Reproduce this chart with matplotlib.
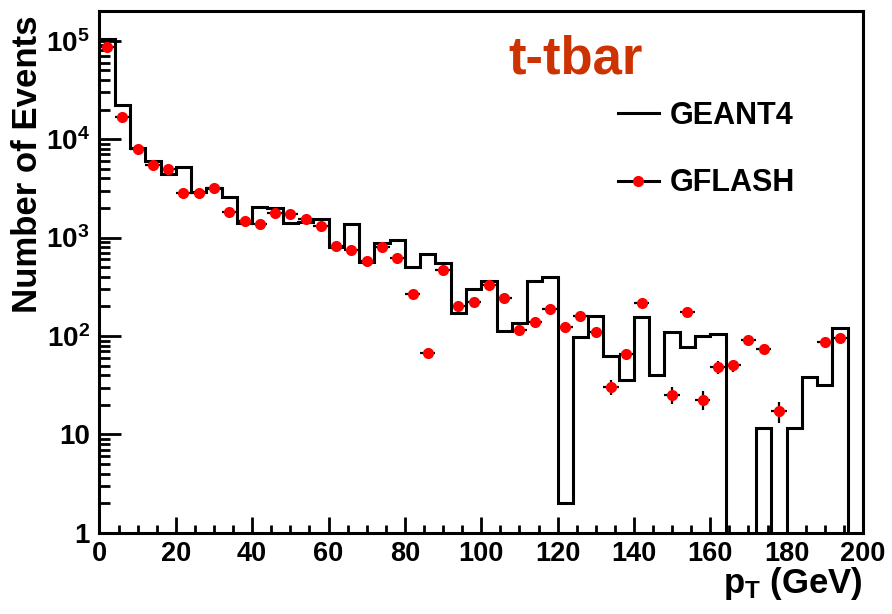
import matplotlib
matplotlib.use('Agg')
import matplotlib.pyplot as plt
import numpy as np
from matplotlib.lines import Line2D
from matplotlib.ticker import (FixedLocator, FixedFormatter, MultipleLocator,
                               LogLocator, NullFormatter)

plt.rcParams['font.family'] = ['Liberation Sans', 'DejaVu Sans']
plt.rcParams['font.weight'] = 'bold'
plt.rcParams['mathtext.fontset'] = 'custom'
plt.rcParams['mathtext.rm'] = 'Liberation Sans:bold'
plt.rcParams['mathtext.it'] = 'Liberation Sans:bold'
plt.rcParams['mathtext.bf'] = 'Liberation Sans:bold'

# p_T bins of 4 GeV from 0 to 200
bin_edges = np.arange(0, 204, 4)

# GEANT4 histogram contents (0 = empty bin)
geant4 = [105000, 22000, 8200, 6000, 4450, 5200, 2900, 3200, 2560, 1420,
          2050, 1980, 1420, 1450, 1540, 794, 1370, 568, 891, 944,
          497, 680, 558, 171, 300, 364, 113, 137, 364, 400,
          2, 98, 160, 63, 36, 157, 40, 110, 78, 100,
          106, 0, 0, 11.7, 0, 11.7, 38, 32, 120, 0]

# GFLASH points at bin centres (nan = no entry)
gflash = [87000, 16900, 7900, 5500, 4970, 2870, 2870, 3180, 1840, 1480,
          1370, 1790, 1730, 1560, 1300, 826, 752, 581, 805, 620,
          267, 68, 467, 203, 224, 329, 246, 116, 140, 188,
          124, 158, 110, 30.5, 66, 216, np.nan, 25.2, 175, 22.6,
          48.3, 50.6, 90.8, 74.6, 17.4, np.nan, np.nan, 87.3, 95.3, np.nan]

y_ticks = [1, 10, 100, 1000, 1e4, 1e5]
y_tick_labels = ['1', '10', '$10^{2}$', '$10^{3}$', '$10^{4}$', '$10^{5}$']

fig = plt.figure(figsize=(8.92, 6.14), dpi=100)
ax = fig.add_axes([0.1115, 0.132, 0.856, 0.850])

g = np.array(geant4, dtype=float)
ax.stairs(np.where(g > 0, g, 1e-2), bin_edges, color='black', lw=2.2,
          baseline=None, zorder=2)

centers = (bin_edges[:-1] + bin_edges[1:]) / 2
gf = np.array(gflash, dtype=float)
ok = ~np.isnan(gf)
ax.errorbar(centers[ok], gf[ok], xerr=2, yerr=np.sqrt(gf[ok]), fmt='o',
            color='red', mfc='red', mec='red', ms=7, ecolor='black',
            elinewidth=1.6, capsize=0, zorder=3)

ax.set_xlim(0, 200)
ax.set_yscale('log')
ax.set_ylim(1, 2e5)
ax.xaxis.set_major_locator(MultipleLocator(20))
ax.xaxis.set_minor_locator(MultipleLocator(5))
ax.yaxis.set_major_locator(FixedLocator(y_ticks))
ax.yaxis.set_major_formatter(FixedFormatter(y_tick_labels))
ax.yaxis.set_minor_locator(LogLocator(base=10, subs=np.arange(2, 10)))
ax.yaxis.set_minor_formatter(NullFormatter())

ax.tick_params(axis='x', which='major', direction='in', length=11.5, width=2,
               labelsize=19.5, pad=6)
ax.tick_params(axis='x', which='minor', direction='in', length=6, width=2)
ax.tick_params(axis='y', which='major', direction='in', length=16, width=2,
               labelsize=20, pad=7)
ax.tick_params(axis='y', which='minor', direction='in', length=8, width=2)
ax.tick_params(top=False, right=False, which='both')
for s in ax.spines.values():
    s.set_linewidth(2.2)

ax.set_ylabel('Number of Events', fontsize=25, fontweight='bold', loc='top')
ax.yaxis.set_label_coords(-0.072, 0.992)
ax.set_xlabel('$p_{T}$ (GeV)', fontsize=25, fontweight='bold', loc='right')
ax.xaxis.set_label_coords(1.0, -0.062)

ax.text(0.535, 0.881, 't-tbar', transform=ax.transAxes, fontsize=38,
        color='#cc3300', fontweight='bold', ha='left', va='baseline')

handles = [Line2D([], [], color='black', lw=2.2),
           Line2D([], [], color='black', lw=2.2, marker='o', ms=7,
                  mfc='red', mec='red')]
ax.legend(handles, ['GEANT4', 'GFLASH'], loc='upper left',
          bbox_to_anchor=(618 / 892, 1 - 101 / 614), bbox_transform=fig.transFigure,
          frameon=False, fontsize=22, handlelength=1.34, handletextpad=0.35,
          labelspacing=1.22, borderpad=0, borderaxespad=0)

fig.savefig('out.png', dpi=100, facecolor='white')
